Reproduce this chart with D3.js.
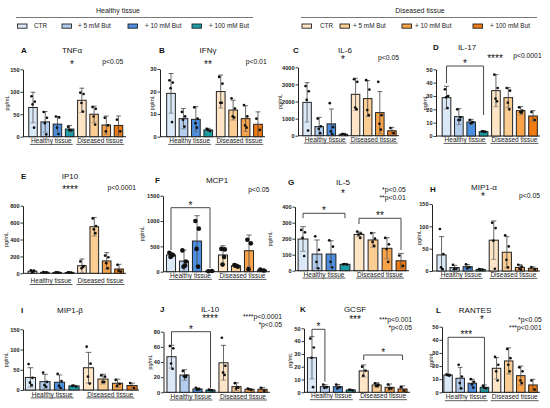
<!DOCTYPE html>
<html>
<head>
<meta charset="utf-8">
<script src="https://cdn.jsdelivr.net/npm/d3@7"></script>
<style>
  body { margin: 0; background: #fff; }
  svg { display: block; font-family: "Liberation Sans", Arial, Helvetica, sans-serif; }
</style>
</head>
<body>
<svg id="chart" width="550" height="408"></svg>
<script>
// ---------------------------------------------
// Data
// ---------------------------------------------
const groups = ['Healthy tissue', 'Diseased tissue'];
const treatments = ['CTR', '+ 5 mM But', '+ 10 mM But', '+ 100 mM But'];

const panelLetters = ['A', 'B', 'C', 'D', 'E', 'F', 'G', 'H', 'I', 'J', 'K', 'L'];
const cytokines = ['TNFα', 'IFNγ', 'IL-6', 'IL-17', 'IP10', 'MCP1', 'IL-5', 'MIP1-α', 'MIP1-β', 'IL-10', 'GCSF', 'RANTES'];
const yMax = [150, 30, 4000, 50, 800, 1500, 400, 150, 150, 80, 50, 50];
const yStep = [50, 10, 1000, 10, 200, 500, 100, 50, 50, 20, 10, 10];
const panelStars = ['*', '**', '*', '****', '****', '', '*', '*', '', '****', '***', '*'];
const pValueText = [
  ['p<0.05'], ['p<0.01'], ['p<0.05'], ['p<0.0001'],
  ['p<0.0001'], ['p<0.05'], ['*p<0.05', '**p<0.01'], ['p<0.05'],
  [], ['****p<0.0001', '*p<0.05'], ['***p<0.001', '*p<0.05'], ['*p<0.05', '***p<0.001']
];

// mean per bar: healthy CTR, +5, +10, +100, diseased CTR, +5, +10, +100
const barMeans = [
  [65, 33, 28, 17, 81, 50, 26, 25],
  [19.2, 8, 7.7, 3, 20, 11.8, 8, 5.5],
  [1950, 530, 690, 80, 2420, 2170, 1350, 290],
  [28.75, 14.5, 10.5, 3.25, 34, 28.75, 19, 15],
  [25, 12, 10, 10, 90, 551, 146, 51],
  [330, 210, 605, 13, 330, 118, 414, 33],
  [198, 104, 104, 40, 227, 192, 140, 62],
  [36, 7.7, 9.7, 3.5, 69, 42, 8, 6],
  [31, 20.7, 19.2, 10, 55, 27, 16.7, 11],
  [47, 22.8, 4.4, 3, 39, 7.5, 4, 4],
  [27, 4.4, 4.4, 1.8, 16.7, 5.7, 3.9, 2.6],
  [13.2, 10.7, 6.9, 3.8, 18.3, 23.9, 12.7, 5.6]
];

const barSD = [
  [34, 23, 17, 8, 27, 18, 20, 21],
  [8.8, 4.5, 5.6, 0.7, 7.3, 4.4, 5.7, 5.5],
  [1150, 540, 870, 60, 940, 1050, 1230, 195],
  [8.5, 6, 2, 0.8, 12, 7.5, 3, 4],
  [14, 5, 4, 4, 80, 110, 98, 55],
  [50, 218, 500, 5, 183, 27, 310, 15],
  [77, 88, 83, 4, 14, 45, 66, 46],
  [41, 5, 4.5, 0.5, 43, 35, 6, 3],
  [24, 18, 18, 1.5, 38, 12, 10, 6],
  [15, 7, 1.5, 0.5, 23, 5, 1, 2.5],
  [16.5, 1.5, 1.7, 0.3, 4.7, 1.8, 2.6, 2.4],
  [0.8, 8.3, 3.1, 1.8, 8.1, 10, 7.3, 4.3]
];

const dotValues = [
  [[90, 78, 72, 20], [55, 42, 30, 5], [45, 43, 20, 6], [22, 14, 15], [98, 95, 75, 56], [66, 62, 45, 27], [42, 25, 12], [38, 12]],
  [[25, 24, 21.5, 6.5], [11, 9, 7.5, 4.5], [13, 8, 6, 4], [3.5, 2.5, 3], [26.5, 23.5, 15, 15], [17, 12.5, 9, 8.5], [14, 9, 5, 4], [8, 3]],
  [[2900, 2600, 2100, 300], [1000, 550, 400, 150], [1900, 500, 250, 100], [80, 60, 100], [3300, 3150, 1650, 1550], [3250, 2700, 1500, 1200], [3150, 1200, 700, 350], [450, 150]],
  [[35, 30, 29, 21], [20, 14, 12, 12], [12, 10.5, 9.5, 10], [3.5, 3, 3.25], [46, 36, 28, 26], [36, 34, 25, 20], [21.5, 19, 18, 17.5], [18, 12]],
  [[35, 30, 15, 20], [15, 10, 12], [12, 8, 10], [12, 9, 10], [140, 85, 60, 75], [650, 560, 520, 475], [210, 190, 120, 60], [100, 20, 30]],
  [[375, 330, 290], [420, 200, 100, 120], [1000, 850, 450, 100], [10, 15], [450, 440, 140, 290], [130, 100, 120], [630, 560, 50], [40, 25]],
  [[255, 240, 205, 92], [215, 130, 55, 15], [190, 150, 55, 20], [40, 38, 42], [245, 232, 225, 205], [235, 200, 180, 155], [205, 165, 135, 55], [95, 30]],
  [[94, 38, 8, 4], [14, 5, 4], [15, 8, 6], [4, 3, 3.5], [108, 96, 68, 5], [80, 55, 25, 8], [14, 10, 5, 3], [9, 3]],
  [[64, 30, 18, 12], [43, 20, 12, 8], [40, 22, 10, 5], [10, 8, 11], [107, 65, 33, 16], [36, 33, 20, 20], [25, 15, 10], [17, 5]],
  [[61, 58, 38, 31], [28, 22, 21, 20], [6, 4, 3.5, 4], [3.5, 2.5, 3], [72, 35, 26, 23], [12, 6, 5, 7], [5, 3, 4], [6, 2]],
  [[42, 35, 27, 4], [6, 4, 3.5], [6, 4, 3], [2, 1.5, 2], [20, 17, 13], [7, 6, 5, 5], [6, 3, 2.7], [4, 1.2]],
  [[13.5, 13, 13.2, 12.8], [21, 12, 7, 3], [10, 8, 6, 3.5], [5, 3, 3.5], [27, 21, 16, 9], [33, 26, 21, 16], [19, 16, 9, 7], [9, 2]]
];

// significance brackets: [first bar, last bar, label]
const brackets = [
  [], [], [], [[0, 3, '*']],
  [], [[0, 3, '*']], [[0, 3, '*'], [4, 7, '**']], [],
  [], [[0, 3, '*']], [[0, 1, '*'], [4, 7, '*']], [[0, 3, '***']]
];

// ---------------------------------------------
// Styling / layout
// ---------------------------------------------
const barColors = ['#dbe8f7', '#b3cdef', '#4c8fe0', '#1a9ea6', '#fde5c6', '#fbcd92', '#f8a34a', '#ef7b12'];
const ink = '#222';

// pixel layout of every panel (br: [top, left leg end, right leg end])
const layout = [
  {ax: 23, band: [26.9, 124.6], end: 126, yTop: 69.3, y0: 136.7, letter: [21, 53], title: [72, 53], star: [72, 67.8], p: [123.3, 64.4], gap: 6.3, ylab: 7.5, br: []},
  {ax: 160, band: [164.8, 264.2], end: 265, yTop: 69, y0: 136.7, letter: [159, 53], title: [208, 53], star: [208, 67.8], p: [266.7, 64.4], gap: 6.3, ylab: 152, br: []},
  {ax: 298, band: [301, 398], end: 399, yTop: 67.3, y0: 135.7, letter: [293, 53], title: [345, 53], star: [343, 63.1], p: [399, 59.7], gap: 6, ylab: 280.5, br: []},
  {ax: 436, band: [440.3, 539.2], end: 540, yTop: 69.3, y0: 136, letter: [433, 50], title: [467, 50], star: [495, 61.5], p: [541.7, 58.1], gap: 6, ylab: 425, br: [[66, 83, 115]]},
  {ax: 23, band: [26.3, 125.2], end: 126, yTop: 205.7, y0: 273.3, letter: [21, 179], title: [70, 179], star: [70, 193.1], p: [136, 189.7], gap: 9.8, ylab: 6.7, br: []},
  {ax: 163, band: [164.5, 268.5], end: 270, yTop: 195.7, y0: 271.7, letter: [155, 183], title: [217, 183], star: [217, 190], p: [269.3, 192.4], gap: 6.3, ylab: 142, br: [[207.7, 250, 268]]},
  {ax: 295, band: [296, 408], end: 409, yTop: 206.7, y0: 270.7, letter: [288, 185], title: [343, 185], star: [343, 196.8], p: [405.7, 192.4], gap: 6, ylab: 270, br: [[213.3, 218.3, 218.3], [218.3, 224, 250]]},
  {ax: 432, band: [435, 539.5], end: 540, yTop: 204, y0: 271, letter: [430, 191.5], title: [484, 189.8], star: [483, 199.8], p: [540, 198.4], gap: 6, ylab: 419, br: []},
  {ax: 23, band: [23.2, 139.3], end: 139, yTop: 329.3, y0: 390, letter: [21, 313], title: [70, 313], star: [70, 320], p: [136, 320], gap: 6.5, ylab: 6.7, br: []},
  {ax: 163.5, band: [165, 269], end: 270, yTop: 331.7, y0: 392.3, letter: [160, 312], title: [210, 312], star: [210, 321.5], p: [282, 319.3], gap: 6.3, ylab: 150, br: [[331.7, 345, 388.3]]},
  {ax: 304, band: [305.5, 409], end: 410, yTop: 328.3, y0: 392.3, letter: [300, 312], title: [355, 312], star: [355, 323.1], p: [412, 321.8], gap: 6, ylab: 290, br: [[329.3, 336.7, 381.7], [355, 360, 360]]},
  {ax: 442, band: [442, 539], end: 540, yTop: 326.7, y0: 392.3, letter: [436, 313], title: [475, 313], star: [482, 323.1], p: [541.7, 321.7], gap: 7, ylab: 431, br: [[337.3, 373.3, 385]]}
];

// horizontal spread of the scatter dots, as a fraction of the bar width
const dotSpread = [-0.18, 0.2, -0.05, 0.12, -0.2];

const svg = d3.select('#chart');

// ---------------------------------------------
// Legend
// ---------------------------------------------
const legendHeaderX = [118, 420];
const legendLine = [[16, 253], [301, 537]];
const legendSwatchX = [[17.5, 62, 128, 192], [302, 340, 402, 473]];
const legendTextX = [[34, 78, 145, 209], [320, 353, 415, 490]];

groups.forEach((groupName, gi) => {
  svg.append('text')
      .attr('x', legendHeaderX[gi])
      .attr('y', 13)
      .attr('text-anchor', 'middle')
      .attr('font-size', 7)
      .attr('fill', ink)
      .text(groupName);

  svg.append('line')
      .attr('x1', legendLine[gi][0]).attr('x2', legendLine[gi][1])
      .attr('y1', 17.5).attr('y2', 17.5)
      .attr('stroke', '#555').attr('stroke-width', 0.8);

  treatments.forEach((t, ti) => {
    svg.append('rect')
        .attr('x', legendSwatchX[gi][ti])
        .attr('y', 24)
        .attr('width', 9.5)
        .attr('height', 4.2)
        .attr('fill', barColors[gi * 4 + ti])
        .attr('stroke', ink)
        .attr('stroke-width', 0.9);
    svg.append('text')
        .attr('x', legendTextX[gi][ti])
        .attr('y', 28.4)
        .attr('font-size', 6.4)
        .attr('fill', ink)
        .text(t);
  });
});

// ---------------------------------------------
// Panels
// ---------------------------------------------
const barKeys = groups.flatMap((g) => treatments.map((t) => g + ' ' + t));

cytokines.forEach((name, i) => {
  const L = layout[i];
  const g = svg.append('g');

  const x = d3.scaleBand()
      .domain(barKeys)
      .range(L.band)
      .paddingInner(0.3)
      .paddingOuter(0.15);
  const y = d3.scaleLinear()
      .domain([0, yMax[i]])
      .range([L.y0, L.yTop]);
  const bw = x.bandwidth();
  const cx = (j) => x(barKeys[j]) + bw / 2;

  // y axis
  const yAxis = d3.axisLeft(y)
      .tickValues(d3.range(0, yMax[i] + 1e-9, yStep[i]))
      .tickSize(2.5)
      .tickSizeOuter(0)
      .tickPadding(1)
      .tickFormat(d3.format('d'));
  const ga = g.append('g')
      .attr('transform', `translate(${L.ax},0)`)
      .call(yAxis);
  ga.select('.domain').attr('stroke', ink).attr('stroke-width', 1);
  ga.selectAll('.tick line').attr('stroke', ink).attr('stroke-width', 0.9);
  ga.selectAll('.tick text')
      .attr('font-size', 5.6)
      .attr('font-weight', 'bold')
      .attr('font-family', '"Liberation Sans", Arial, sans-serif')
      .attr('fill', ink);

  // x axis line
  g.append('line')
      .attr('x1', L.ax).attr('x2', L.end)
      .attr('y1', L.y0).attr('y2', L.y0)
      .attr('stroke', ink).attr('stroke-width', 1);

  // y label
  g.append('text')
      .attr('transform', `translate(${L.ylab + 1.6},${(L.yTop + L.y0) / 2}) rotate(-90)`)
      .attr('text-anchor', 'middle')
      .attr('font-size', 5.4)
      .attr('fill', ink)
      .text('pg/mL');

  // bars
  g.selectAll('rect.bar').data(barMeans[i])
      .join('rect')
      .attr('class', 'bar')
      .attr('x', (d, j) => x(barKeys[j]))
      .attr('y', (d) => y(d))
      .attr('width', bw)
      .attr('height', (d) => L.y0 - y(d))
      .attr('fill', (d, j) => barColors[j])
      .attr('stroke', ink)
      .attr('stroke-width', 1);

  // error bars (mean +/- SD)
  barMeans[i].forEach((m, j) => {
    const sd = barSD[i][j];
    const lo = y(Math.max(0, m - sd));
    const hi = y(m + sd);
    const c = cx(j);
    const cap = bw * 0.28;
    g.append('line')
        .attr('x1', c).attr('x2', c).attr('y1', lo).attr('y2', hi)
        .attr('stroke', '#444').attr('stroke-width', 0.8);
    g.append('line')
        .attr('x1', c - cap).attr('x2', c + cap).attr('y1', hi).attr('y2', hi)
        .attr('stroke', '#444').attr('stroke-width', 0.8);
    if (m - sd > 0) {
      g.append('line')
          .attr('x1', c - cap).attr('x2', c + cap).attr('y1', lo).attr('y2', lo)
          .attr('stroke', '#777').attr('stroke-width', 0.7);
    }
  });

  // individual values
  const r = i === 5 ? 2.3 : 1.35;
  dotValues[i].forEach((vals, j) => {
    g.selectAll(null).data(vals)
        .join('circle')
        .attr('cx', (v, k) => cx(j) + dotSpread[k % dotSpread.length] * bw)
        .attr('cy', (v) => y(v))
        .attr('r', r)
        .attr('fill', '#111');
  });

  // group labels underneath
  groups.forEach((groupName, gi) => {
    const left = x(barKeys[gi * 4]);
    const right = x(barKeys[gi * 4 + 3]) + bw;
    const t = g.append('text')
        .attr('x', (left + right) / 2)
        .attr('y', L.y0 + L.gap)
        .attr('text-anchor', 'middle')
        .attr('font-size', 6.5)
        .attr('fill', ink)
        .text(groupName);
    const w = t.node().getComputedTextLength();
    g.append('line')
        .attr('x1', (left + right) / 2 - w / 2 - 1)
        .attr('x2', (left + right) / 2 + w / 2 + 1)
        .attr('y1', L.y0 + L.gap + 1.4)
        .attr('y2', L.y0 + L.gap + 1.4)
        .attr('stroke', '#333').attr('stroke-width', 0.8);
  });

  // panel letter and title
  g.append('text')
      .attr('x', L.letter[0]).attr('y', L.letter[1])
      .attr('font-size', 8).attr('font-weight', 'bold').attr('fill', '#111')
      .text(panelLetters[i]);
  g.append('text')
      .attr('x', L.title[0]).attr('y', L.title[1])
      .attr('text-anchor', 'middle')
      .attr('font-size', 8).attr('fill', '#111')
      .text(name);

  if (panelStars[i]) {
    g.append('text')
        .attr('x', L.star[0]).attr('y', L.star[1])
        .attr('text-anchor', 'middle')
        .attr('font-size', 10).attr('fill', '#111')
        .text(panelStars[i]);
  }

  pValueText[i].forEach((line, k) => {
    g.append('text')
        .attr('x', L.p[0]).attr('y', L.p[1] + k * 7.8)
        .attr('text-anchor', 'end')
        .attr('font-size', 6.8).attr('fill', '#111')
        .text(line);
  });

  // significance brackets
  brackets[i].forEach((b, k) => {
    const geo = L.br[k];
    const x1 = cx(b[0]);
    const x2 = cx(b[1]);
    g.append('path')
        .attr('d', `M${x1},${geo[1]}V${geo[0]}H${x2}V${geo[2]}`)
        .attr('fill', 'none')
        .attr('stroke', '#333')
        .attr('stroke-width', 0.9);
    g.append('text')
        .attr('x', (x1 + x2) / 2).attr('y', geo[0] + 1.1)
        .attr('text-anchor', 'middle')
        .attr('font-size', 10).attr('fill', '#111')
        .text(b[2]);
  });
});
</script>
</body>
</html>
